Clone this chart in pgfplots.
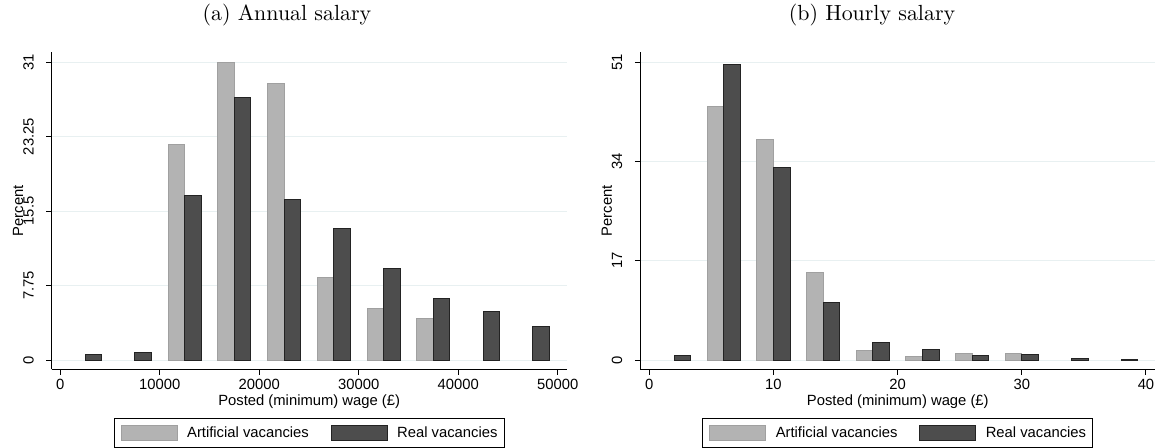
\documentclass[border=0pt]{standalone}
\usepackage{pgfplots}
\usepackage{pgfplotstable}
\pgfplotsset{compat=1.18}
\usepackage{fontspec}
\newfontfamily\arial{Liberation Sans}
\newcommand\axfont{\arial\fontsize{7.4}{8.5}\selectfont}
\definecolor{artfill}{RGB}{179,179,179}
\definecolor{artdraw}{RGB}{160,160,160}
\definecolor{realfill}{RGB}{77,77,77}
\definecolor{realdraw}{RGB}{35,35,35}
\definecolor{gridc}{RGB}{232,240,241}

\pgfplotstableread{
x art real
2500 nan 0.62
7500 nan 0.83
12500 22.4 17.08
17500 30.95 27.27
22500 28.8 16.67
27500 8.56 13.69
32500 5.4 9.53
37500 4.3 6.41
42500 nan 5.09
47500 nan 3.5
}\annual

\pgfplotstableread{
x art real
2 nan 0.85
6 43.4 50.5
10 37.8 32.9
14 15.04 9.8
18 1.66 2.96
22 0.63 1.83
26 1.15 0.85
30 1.15 0.91
34 nan 0.28
38 nan 0.17
}\hourly

\pgfplotsset{
  stata/.style={
    scale only axis, width=257.5pt, height=158.65pt,
    axis x line=bottom, axis y line=left,
    axis line style={-, black, line width=0.5pt},
    tick align=outside, major tick length=2.75pt,
    tick style={black, line width=0.5pt},
    minor tick num=0,
    scaled x ticks=false, scaled y ticks=false,
    ymajorgrids, major grid style={gridc, line width=0.5pt},
    tick label style={font=\axfont},
    /pgf/number format/assume math mode=true,
    xticklabel style={anchor=base, inner sep=0pt},
    yticklabel style={rotate=90, anchor=base, inner sep=0pt},
    xticklabel shift=7.25pt,
    yticklabel shift=6.35pt,
    xlabel style={at={(axis description cs:0.5,-0.1125)}, anchor=base, inner sep=0pt, font=\axfont},
    ylabel style={at={(axis description cs:-0.0553,0.5)}, rotate=0, anchor=base, inner sep=0pt, font=\axfont},
    xlabel={Posted (minimum) wage (\pounds)},
    ylabel={Percent},
    ybar, bar shift=0pt,
    legend image code/.code={\draw[##1, line width=0.5pt] (0pt,-3.75pt) rectangle (28pt,3.75pt);},
    legend style={at={(0.5,-0.1525)}, anchor=north, legend columns=2,
      draw=black, line width=0.5pt, inner xsep=3.3pt, inner ysep=3.2pt,
      font=\axfont, nodes={inner sep=0pt, text depth=0pt},
      /tikz/every odd column/.append style={column sep=4.65pt},
      /tikz/every even column/.append style={column sep=11pt}},
    legend cell align=left,
  },
  artplot/.style={fill=artfill, draw=artdraw, line width=0.5pt, bar shift=0pt},
  realplot/.style={fill=realfill, draw=realdraw, line width=0.5pt, bar shift=0pt},
}

\begin{document}
\begin{tikzpicture}
\path[use as bounding box] (0,0) rectangle (579pt,-223.5pt);

\node[anchor=base, font=\fontsize{10.95}{13}\selectfont] at (143.45pt,-10.35pt) {(a) Annual salary};
\node[anchor=base, font=\fontsize{10.95}{13}\selectfont] at (436pt,-10.35pt) {(b) Hourly salary};

\begin{axis}[stata,
  at={(25.85pt,-184.65pt)}, anchor=south west,
  xmin=-864.5, xmax=50905, ymin=-0.966, ymax=32.04,
  xtick={0,10000,20000,30000,40000,50000},
  xticklabels={0,10000,20000,30000,40000,50000},
  ytick={0,7.75,15.5,23.25,31},
  yticklabels={0,7.75,15.5,23.25,31},
  bar width=1666.67,
]
\addplot[artplot] table[x expr=\thisrow{x}-833.33, y=art] {\annual};
\addlegendentry{Artificial vacancies}
\addplot[realplot] table[x expr=\thisrow{x}+833.33, y=real] {\annual};
\addlegendentry{Real vacancies}
\end{axis}

\begin{axis}[stata,
  at={(320.15pt,-184.65pt)}, anchor=south west,
  xmin=-0.724, xmax=40.75, ymin=-1.59, ymax=52.71,
  xtick={0,10,20,30,40},
  xticklabels={0,10,20,30,40},
  ytick={0,17,34,51},
  yticklabels={0,17,34,51},
  bar width=1.3333,
]
\addplot[artplot] table[x expr=\thisrow{x}-0.66667, y=art] {\hourly};
\addlegendentry{Artificial vacancies}
\addplot[realplot] table[x expr=\thisrow{x}+0.66667, y=real] {\hourly};
\addlegendentry{Real vacancies}
\end{axis}
\end{tikzpicture}
\end{document}
